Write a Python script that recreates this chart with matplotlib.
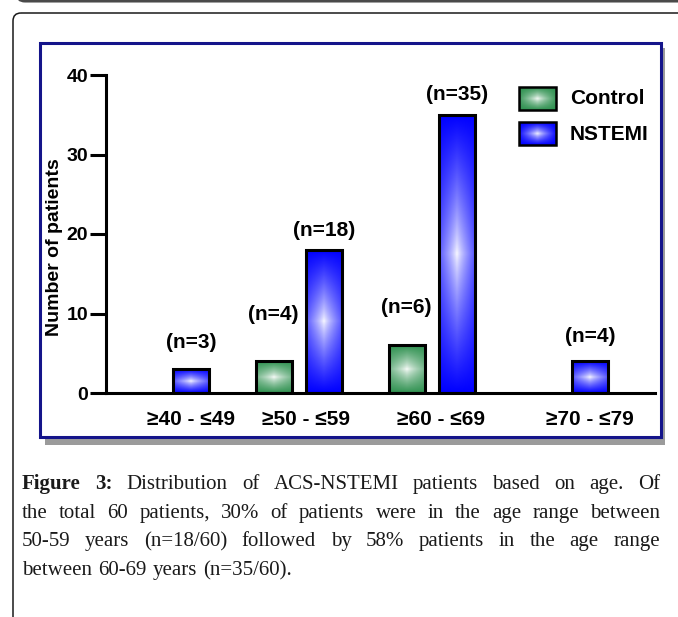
"""
plot.py — ACS-NSTEMI patients by age group (Control vs NSTEMI), Prism-style figure with caption
"""
import numpy as np
import matplotlib
matplotlib.use("Agg")
import matplotlib.pyplot as plt
import matplotlib.colors as mcolors
from matplotlib.patches import Rectangle, FancyBboxPatch

AGE_GROUPS   = ["\u226540 - \u226449", "\u226550 - \u226459", "\u226560 - \u226469", "\u226570 - \u226479"]
CONTROL      = [0, 4, 6, 0]
NSTEMI       = [3, 18, 35, 4]
# where the "(n=..)" notes sit (y in data units)
CONTROL_NOTE_Y = [None, 9.9, 10.7, None]
NSTEMI_NOTE_Y  = [6.4, 20.5, 37.5, 7.1]
TICK_SHIFT   = [0.19, 0.05, 0.07, 0.19]   # x tick labels are placed by hand in the original
Y_TICKS      = [0, 10, 20, 30, 40]

CAPTION = [
    [("Figure", "bold"), ("3:", "bold"), ("Distribution", "normal"), ("of", "normal"),
     ("ACS-NSTEMI", "normal"), ("patients", "normal"), ("based", "normal"), ("on", "normal"),
     ("age.", "normal"), ("Of", "normal")],
    "the total 60 patients, 30% of patients were in the age range between",
    "50-59 years (n=18/60) followed by 58% patients in the age range",
    "between 60-69 years (n=35/60).",
]

GREEN = "#2f9150"
BLUE  = "#0000ff"
NAVY  = "#14148a"
W, H  = 678, 617

plt.rcParams["font.family"] = ["Liberation Sans", "DejaVu Sans"]
plt.rcParams["font.weight"] = "bold"


def gradient(color, n=48, m=160, side=0.55):
    # white centre fading to the full colour at the edges (Prism "gradient" fill)
    u, v = np.meshgrid(np.linspace(-1, 1, n), np.linspace(-1, 1, m))
    t = 1 - (1 - np.abs(v)) * (1 - side * np.abs(u))
    t = t ** 0.75
    c = np.array(mcolors.to_rgb(color))
    return (1 - t)[..., None] + t[..., None] * c


fig = plt.figure(figsize=(W / 100, H / 100), dpi=100)

# ── background: page frame, chart box with shadow ────────────────────────────
bg = fig.add_axes([0, 0, 1, 1])
bg.set_xlim(0, W)
bg.set_ylim(H, 0)
bg.axis("off")

bg.add_patch(FancyBboxPatch((17, -60), 720, 61, boxstyle="round,pad=0,rounding_size=8",
                            fc="none", ec="#4a4a4a", lw=2.2))
bg.add_patch(FancyBboxPatch((13, 13), 720, 720, boxstyle="round,pad=0,rounding_size=8",
                            fc="none", ec="#1a1a1a", lw=1.1))
bg.add_patch(Rectangle((45, 48), 620, 397, fc="#9b9b9b", ec="none"))
bg.add_patch(Rectangle((40, 43), 621, 394, fc="white", ec=NAVY, lw=2.2))

# legend drawn by hand, gradient swatches like the bars
for i, (lab, col) in enumerate([("Control", GREEN), ("NSTEMI", BLUE)]):
    y0 = 87 + i * 35
    bg.imshow(gradient(col, 40, 40, side=0.9), extent=[519, 556, y0 + 23, y0],
              aspect="auto", interpolation="bilinear", zorder=2)
    bg.add_patch(Rectangle((519, y0), 37, 23, fc="none", ec="black", lw=1.8, zorder=3))
    bg.text(570, y0 + 12, lab, fontsize=15, fontweight="bold", va="center", ha="left")
bg.set_xlim(0, W)
bg.set_ylim(H, 0)

# ── caption, justified like the journal page ─────────────────────────────────
renderer = fig.canvas.get_renderer()
CAP_FONT = dict(family=["Liberation Serif", "DejaVu Serif"], fontsize=15, color="#1a1a1a")
X_LEFT, X_RIGHT = 22, 660


def word_width(word, weight):
    t = bg.text(0, 0, word, fontweight=weight, **CAP_FONT)
    w = t.get_window_extent(renderer).width
    t.remove()
    return w


for k, line in enumerate(CAPTION):
    words = line if isinstance(line, list) else [(w, "normal") for w in line.split()]
    widths = [word_width(w, wt) for w, wt in words]
    last = k == len(CAPTION) - 1
    gap = word_width("a b", "normal") - 2 * word_width("a", "normal") if last else \
        (X_RIGHT - X_LEFT - sum(widths)) / (len(words) - 1)
    x = X_LEFT
    yb = 489 + k * 28.7
    for (w, wt), ww in zip(words, widths):
        bg.text(x, yb, w, fontweight=wt, va="baseline", ha="left", **CAP_FONT)
        x += ww + gap

# ── bar chart ────────────────────────────────────────────────────────────────
ax = fig.add_axes([106 / W, (H - 393) / H, 549 / W, 318 / H])
ax.patch.set_alpha(0)

x = np.arange(len(AGE_GROUPS))
off, bw = 0.19, 0.27
for vals, col, shift, notes in [(CONTROL, GREEN, -off, CONTROL_NOTE_Y),
                                (NSTEMI, BLUE, off, NSTEMI_NOTE_Y)]:
    vals = np.array(vals)
    keep = vals > 0
    bars = ax.bar(x[keep] + shift, vals[keep], width=bw, facecolor="none",
                  edgecolor="black", linewidth=2.2, zorder=3)
    for b in bars:
        ax.imshow(gradient(col), extent=[b.get_x(), b.get_x() + b.get_width(), 0, b.get_height()],
                  aspect="auto", interpolation="bilinear", zorder=2)
    for xi, v, ny in zip(x + shift, vals, notes):
        if v > 0:
            ax.text(xi, ny, f"(n={v})", ha="center", va="center", fontsize=15, fontweight="bold")

ax.set_xlim(-0.451, 3.677)
ax.set_ylim(0, 40)
ax.set_yticks(Y_TICKS)
ax.set_xticks(x + np.array(TICK_SHIFT))
ax.set_xticklabels(AGE_GROUPS, fontsize=15, fontweight="bold")
ax.tick_params(axis="x", length=0, pad=12)
ax.tick_params(axis="y", length=11.5, width=2.2, pad=1.5, labelsize=14)
for s in ["top", "right"]:
    ax.spines[s].set_visible(False)
for s in ["left", "bottom"]:
    ax.spines[s].set_linewidth(2.2)
ax.set_ylabel("Number of patients", fontsize=14, fontweight="bold")
ax.yaxis.set_label_coords(-0.094, 0.459)
ax.yaxis.label.set_va("center")

plt.savefig("out.png", dpi=100)
plt.close()
